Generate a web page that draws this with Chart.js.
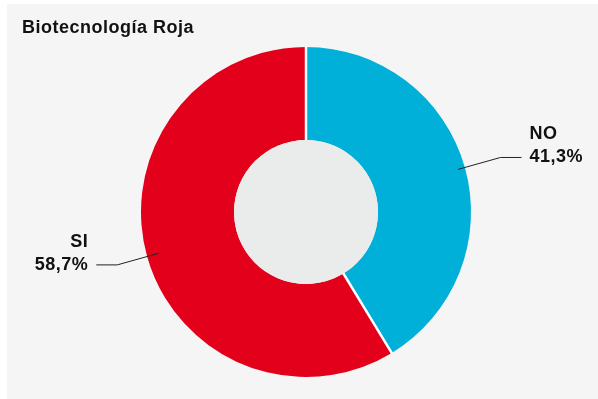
<!DOCTYPE html>
<html>
<head>
<meta charset="utf-8">
<script src="https://cdn.jsdelivr.net/npm/chart.js@4/dist/chart.umd.min.js"></script>
<style>
  html, body { margin: 0; padding: 0; background: #ffffff; }
  #wrap { width: 598px; height: 399px; position: relative; }
</style>
</head>
<body>
<div id="wrap"><canvas id="pieChart" width="598" height="399"></canvas></div>
<script>
// Biotecnología Roja – respuestas
const categories = ["NO", "SI"];
const values = [41.3, 58.7];
const valueLabels = ["41,3%", "58,7%"];
const colors = ["#00b0d8", "#e2001a"];

const titleText = "Biotecnología Roja";
const FONT = "'Liberation Sans', Arial, sans-serif";

// panel background, hole, separators, leader lines and labels
const decorPlugin = {
    id: "decor",
    beforeDraw(chart) {
        const ctx = chart.ctx;
        ctx.save();
        ctx.fillStyle = "#ffffff";
        ctx.fillRect(0, 0, chart.width, chart.height);
        ctx.fillStyle = "#f5f5f5";
        ctx.fillRect(7, 4, chart.width - 7, chart.height - 4);

        ctx.fillStyle = "#111111";
        ctx.font = "bold 18px " + FONT;
        ctx.letterSpacing = "0.5px";
        ctx.textBaseline = "middle";
        ctx.textAlign = "left";
        ctx.fillText(titleText, 22, 28);
        ctx.restore();
    },
    afterDatasetsDraw(chart) {
        const ctx = chart.ctx;
        const arcs = chart.getDatasetMeta(0).data;
        if (!arcs.length) return;
        const cx = arcs[0].x, cy = arcs[0].y;
        const outer = arcs[0].outerRadius, inner = arcs[0].innerRadius;

        ctx.save();
        // white separators between slices
        ctx.strokeStyle = "#ffffff";
        ctx.lineWidth = 2.5;
        arcs.forEach(a => {
            ctx.beginPath();
            ctx.moveTo(cx, cy);
            ctx.lineTo(cx + Math.cos(a.startAngle) * (outer + 1), cy + Math.sin(a.startAngle) * (outer + 1));
            ctx.stroke();
        });

        // grey centre
        ctx.fillStyle = "#eaebeb";
        ctx.beginPath();
        ctx.arc(cx, cy, inner, 0, Math.PI * 2);
        ctx.fill();

        // leader lines + labels
        arcs.forEach((a, i) => {
            const mid = (a.startAngle + a.endAngle) / 2;
            const cos = Math.cos(mid), sin = Math.sin(mid);
            const right = cos >= 0;
            const r0 = right ? outer - 7 : outer - 12;
            const r1 = right ? outer + 37 : outer + 31;
            const x0 = cx + cos * r0, y0 = cy + sin * r0;
            const x1 = cx + cos * r1, y1 = cy + sin * r1;
            const x2 = x1 + (right ? 21 : -21);

            ctx.strokeStyle = "#222222";
            ctx.lineWidth = 1;
            ctx.beginPath();
            ctx.moveTo(x0, y0);
            ctx.lineTo(x1, y1);
            ctx.lineTo(x2, y1);
            ctx.stroke();

            ctx.fillStyle = "#111111";
            ctx.font = "bold 18px " + FONT;
            ctx.letterSpacing = "0.5px";
            ctx.textBaseline = "middle";
            ctx.textAlign = right ? "left" : "right";
            const tx = x2 + (right ? 8 : -8);
            ctx.fillText(categories[i], tx, y1 - 23);
            ctx.fillText(valueLabels[i], tx, y1);
        });
        ctx.restore();
    }
};

window.onload = function() {
    const ctx = document.getElementById("pieChart").getContext("2d");
    new Chart(ctx, {
        type: "doughnut",
        data: {
            labels: categories,
            datasets: [{
                data: values,
                backgroundColor: colors,
                borderWidth: 0,
                hoverOffset: 0
            }]
        },
        options: {
            responsive: false,
            animation: false,
            radius: 165,
            cutout: 72,
            layout: { padding: { left: 22, right: 8, top: 47, bottom: 22 } },
            plugins: {
                legend: { display: false },
                title: { display: false },
                tooltip: { enabled: false }
            }
        },
        plugins: [decorPlugin]
    });
};
</script>
</body>
</html>
